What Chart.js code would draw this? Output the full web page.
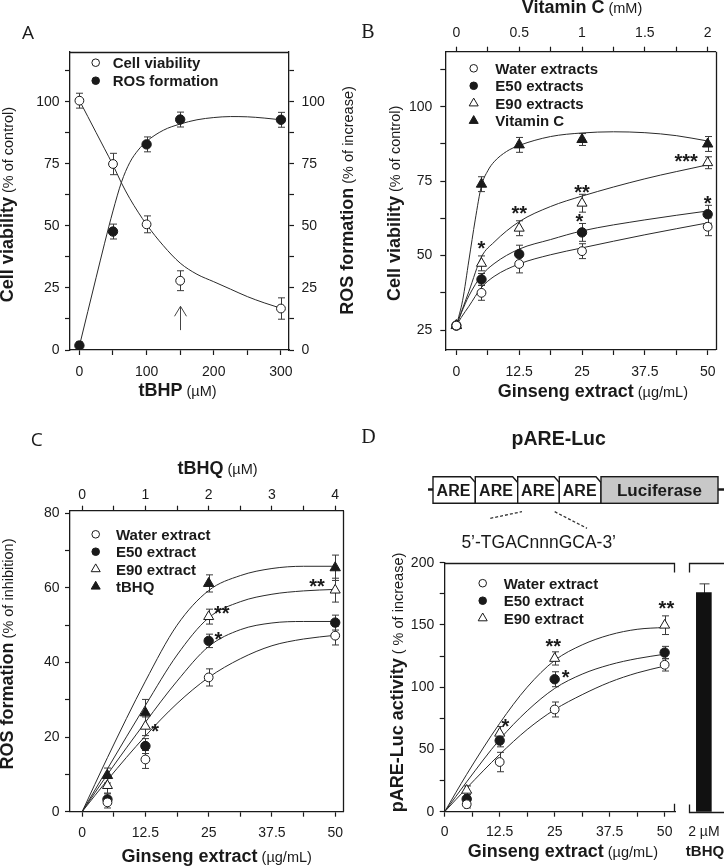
<!DOCTYPE html>
<html><head><meta charset="utf-8">
<script src="https://cdn.jsdelivr.net/npm/chart.js@4.4.1/dist/chart.umd.min.js"></script>
<style>
html,body{margin:0;padding:0;background:#fff;}
#wrap{position:relative;width:724px;height:867px;overflow:hidden;background:#fff;}
#wrap canvas,#wrap svg{position:absolute;}
</style></head><body>
<div id="wrap">
<canvas id="cA" width="362" height="420" style="left:0;top:0"></canvas>
<canvas id="cB" width="362" height="420" style="left:362px;top:0"></canvas>
<canvas id="cC" width="362" height="447" style="left:0;top:420px"></canvas>
<canvas id="cD" width="320" height="447" style="left:362px;top:420px"></canvas>
<canvas id="cE" width="42" height="447" style="left:682px;top:420px"></canvas>
<svg width="724" height="867" style="left:0;top:0;pointer-events:none" xmlns="http://www.w3.org/2000/svg" font-family="Liberation Sans, Arial, sans-serif" fill="#1a1a1a">
  <text x="558.7" y="445" text-anchor="middle" font-weight="bold" font-size="19.5">pARE-Luc</text>
  <line x1="428" y1="489.5" x2="433" y2="489.5" stroke="#1a1a1a" stroke-width="2.5"/>
  <line x1="718" y1="489.5" x2="724" y2="489.5" stroke="#1a1a1a" stroke-width="2.5"/>
  <g stroke="#1a1a1a" stroke-width="1.4" fill="#fff">
    <path d="M433,476.7 L470.3,476.7 L475.3,482.5 L475.3,503.3 L433,503.3 Z"/>
    <path d="M475.3,476.7 L512.7,476.7 L517.7,482.5 L517.7,503.3 L475.3,503.3 Z"/>
    <path d="M517.7,476.7 L554.3,476.7 L559.3,482.5 L559.3,503.3 L517.7,503.3 Z"/>
    <path d="M559.3,476.7 L596,476.7 L601,482.5 L601,503.3 L559.3,503.3 Z"/>
    <rect x="601" y="476.7" width="117" height="26.6" fill="#c8c8c8"/>
  </g>
  <g font-weight="bold" font-size="16" text-anchor="middle">
    <text x="453.5" y="495.8">ARE</text>
    <text x="496" y="495.8">ARE</text>
    <text x="538" y="495.8">ARE</text>
    <text x="579.7" y="495.8">ARE</text>
    <text x="659.5" y="496" font-size="17">Luciferase</text>
  </g>
  <g stroke="#333" stroke-width="1.3" stroke-dasharray="3,2">
    <line x1="490.3" y1="518.3" x2="522" y2="511.7"/>
    <line x1="554.7" y1="511.7" x2="587" y2="528.3"/>
  </g>
  <text x="538.7" y="548.3" text-anchor="middle" font-size="17.5">5’-TGACnnnGCA-3’</text>
</svg>
</div>
<script>
const FONT = '"Liberation Sans", Arial, Helvetica, sans-serif';
const INK = '#1a1a1a';
Chart.defaults.font.family = FONT;
Chart.defaults.color = INK;

// ================= DATA =================
// Panel A : tBHP dose response
const A_dose = [0, 50, 100, 150, 300];
const A_viability = [100.4, 74.9, 50.6, 27.9, 16.7];
const A_viabilityErr = [3, 4.3, 3.4, 4, 4.3];
const A_ros = [1.8, 47.7, 82.8, 92.8, 92.7];
const A_rosErr = [1.5, 3, 3, 3, 3];
const A_fitDose = [0, 12.5, 25, 37.5, 50, 62.5, 75, 87.5, 100, 125, 150, 175, 200, 225, 250, 275, 300];
const A_viabilityFit = [100.5, 94, 87.5, 81, 74.5, 67.3, 61, 55.5, 50.5, 42, 35, 30.5, 27.5, 24.5, 21.5, 19, 16.8];
const A_rosFit = [1.6, 15.5, 29.3, 43, 56, 67.5, 75.5, 80.5, 84, 88.5, 91, 92.7, 93.6, 94, 93.9, 93.4, 92.7];
const A_xTicks = [0, 50, 100, 150, 200, 250, 300];
const A_xTickLabels = [0, 100, 200, 300];
const A_yTicks = [0, 12.5, 25, 37.5, 50, 62.5, 75, 87.5, 100, 112.5];
const A_yTickLabels = [0, 25, 50, 75, 100];

// Panel B : cell viability, ginseng extracts vs vitamin C
const B_dose = [0, 5, 12.5, 25, 50];
const B_water = [26.5, 37.5, 47.2, 51.5, 59.7];
const B_waterErr = [1, 2.5, 3, 2.5, 3];
const B_e50 = [26.5, 42, 50.5, 57.8, 63.9];
const B_e50Err = [1, 2, 3, 3, 3];
const B_e90 = [26.5, 47.4, 59.2, 67.6, 81.2];
const B_e90Err = [1, 2.5, 2.5, 3, 2];
const B_vitcDose = [0, 0.2, 0.5, 1, 2];
const B_vitc = [26.5, 74, 87.2, 89, 87.5];
const B_vitcErr = [1, 2.5, 2.5, 2, 2.5];
const B_fitDose = [0, 1, 2.5, 5, 7.5, 12.5, 18.75, 25, 37.5, 50];
const B_waterFit = [26.5, 29.3, 33, 39.3, 43, 47.2, 50.3, 52.6, 57, 61];
const B_e50Fit = [26.5, 30.8, 36.5, 43.3, 47.3, 52.2, 55.4, 58.3, 62, 65];
const B_e90Fit = [26.5, 31.1, 38, 49.6, 54.5, 61.4, 66.5, 70, 75.8, 80.5];
const B_vitcFitDose = [0, 0.05, 0.1, 0.15, 0.2, 0.25, 0.3, 0.4, 0.5, 0.75, 1, 1.25, 1.5, 1.75, 2];
const B_vitcFit = [26.5, 35, 48.5, 62, 73.5, 78.5, 81.5, 85, 87, 90, 91.2, 91.6, 91.3, 90.3, 88.5];
const B_stars = [
  {x: 5, y: 54.2, t: '*'}, {x: 12.5, y: 65.8, t: '**'}, {x: 25, y: 72.9, t: '**'},
  {x: 24.5, y: 63.1, t: '*'}, {x: 45.7, y: 83.2, t: '***'}, {x: 50, y: 69.3, t: '*'}
];
const B_xTicks = [0, 6.25, 12.5, 18.75, 25, 31.25, 37.5, 43.75, 50];
const B_xTickLabels = [0, 12.5, 25, 37.5, 50];
const B_x2Ticks = [0, 0.25, 0.5, 0.75, 1, 1.25, 1.5, 1.75, 2];
const B_x2TickLabels = [0, 0.5, 1, 1.5, 2];
const B_yTicks = [25, 37.5, 50, 62.5, 75, 87.5, 100, 112.5];
const B_yTickLabels = [25, 50, 75, 100];

// Panel C : ROS formation (% of inhibition)
const C_dose = [5, 12.5, 25, 50];
const C_water = [2.5, 14, 36, 47.2];
const C_waterErr = [1.5, 2.4, 2.3, 2.5];
const C_e50 = [3.3, 17.6, 45.8, 50.7];
const C_e50Err = [1.5, 2, 1.8, 2];
const C_e90 = [7, 22.9, 52.3, 59.4];
const C_e90Err = [2, 2.5, 2, 3.2];
const C_tbhqDose = [0.4, 1, 2, 4];
const C_tbhq = [9.7, 26.5, 61.2, 65.4];
const C_tbhqErr = [2, 3.6, 2.3, 3.4];
const C_fitDose = [0, 5, 12.5, 18.75, 25, 31.25, 37.5, 43.75, 50];
const C_waterFit = [0, 8.5, 20.3, 29, 36, 41, 44.5, 46.3, 47.3];
const C_e50Fit = [0, 10, 24, 35, 44.3, 48.8, 50.6, 51, 51];
const C_e90Fit = [0, 11.5, 28.5, 42, 52, 56.3, 58.3, 59.2, 59.6];
const C_tbhqFitDose = [0, 0.4, 1, 1.5, 2, 2.5, 3, 3.5, 4];
const C_tbhqFit = [0, 14.5, 35, 50, 59.3, 63.3, 65.2, 65.8, 65.8];
const C_stars = [
  {x: 27.6, y: 54.5, t: '**'}, {x: 26.9, y: 47.4, t: '*'},
  {x: 14.4, y: 22.8, t: '*'}, {x: 46.4, y: 61.7, t: '**'}
];
const C_xTicks = B_xTicks;
const C_xTickLabels = B_xTickLabels;
const C_x2Ticks = [0, 0.5, 1, 1.5, 2, 2.5, 3, 3.5, 4];
const C_x2TickLabels = [0, 1, 2, 3, 4];
const C_yTicks = [0, 10, 20, 30, 40, 50, 60, 70, 80];
const C_yTickLabels = [0, 20, 40, 60, 80];

// Panel D : pARE-Luc activity
const D_dose = [5, 12.5, 25, 50];
const D_water = [6, 39.9, 82.1, 118];
const D_waterErr = [3, 7.8, 6, 5];
const D_e50 = [10.2, 57.1, 106.4, 127.8];
const D_e50Err = [3.5, 5, 6, 5];
const D_e90 = [17.2, 63, 123.1, 149.8];
const D_e90Err = [3.5, 5.4, 5.3, 7.5];
const D_fitDose = [0, 5, 12.5, 18.75, 25, 31.25, 37.5, 43.75, 50];
const D_waterFit = [0, 19, 46, 66, 82, 94, 104, 111.5, 117];
const D_e50Fit = [0, 24, 58, 81, 99, 110.5, 118, 123, 126.5];
const D_e90Fit = [0, 30, 71, 100, 121.5, 134, 142, 146.5, 148];
const D_stars = [
  {x: 13.8, y: 72.7, t: '*'}, {x: 24.7, y: 136.5, t: '**'},
  {x: 27.5, y: 111.8, t: '*'}, {x: 50.4, y: 167, t: '**'}
];
const D_xTicks = B_xTicks;
const D_xTickLabels = B_xTickLabels;
const D_yTicks = [0, 25, 50, 75, 100, 125, 150, 175, 200];
const D_yTickLabels = [0, 50, 100, 150, 200];
const D_barCategories = ['2 µM'];
const D_barValues = [176];
const D_barErr = [7];

// ================= HELPERS =================
function tickScale(o) {
  const horiz = (o.pos === 'top' || o.pos === 'bottom');
  return {
    type: 'linear', position: o.pos, min: o.min, max: o.max,
    afterBuildTicks: s => { s.ticks = o.ticks.map(v => ({value: v})); },
    afterFit: s => { if (horiz) s.height = o.size; else s.width = o.size; },
    ticks: {
      autoSkip: false, maxRotation: 0, minRotation: 0, padding: o.pad,
      font: {size: 14}, color: INK,
      callback: v => (o.labels.indexOf(v) >= 0 ? String(v) : '')
    },
    grid: {display: true, drawOnChartArea: false, drawTicks: true, tickLength: 5, tickColor: INK, tickWidth: 1.2},
    border: {display: true, color: INK, width: 1.3}
  };
}
function markerDS(label, xs, ys, errs, shape, filled, xAxisID, yAxisID) {
  return {
    label, data: xs.map((x, i) => ({x, y: ys[i]})), errors: errs, showLine: false,
    pointStyle: shape, pointRadius: shape === 'circle' ? (filled ? 4.7 : 4.4) : (filled ? 6 : 5.8),
    pointBackgroundColor: filled ? INK : '#fff', pointBorderColor: INK, pointBorderWidth: 1,
    xAxisID: xAxisID || 'x', yAxisID: yAxisID || 'y', order: 0, isMarker: true, filled
  };
}
function curveDS(xs, ys, xAxisID, yAxisID) {
  return {
    label: '', data: xs.map((x, i) => ({x, y: ys[i]})), showLine: true, pointRadius: 0,
    borderColor: '#2a2a2a', borderWidth: 1, cubicInterpolationMode: 'monotone', fill: false,
    xAxisID: xAxisID || 'x', yAxisID: yAxisID || 'y', order: 5
  };
}
function drawErrorBars(chart) {
  const ctx = chart.ctx;
  chart.data.datasets.forEach(ds => {
    if (!ds.errors) return;
    const xs = chart.scales[ds.xAxisID || 'x'], ys = chart.scales[ds.yAxisID || 'y'];
    const cap = ds.capHalf || 3.5;
    ctx.save(); ctx.strokeStyle = '#3a3a3a'; ctx.lineWidth = 1;
    ds.data.forEach((p, j) => {
      const e = ds.errors[j]; if (!e) return;
      const isObj = typeof p === 'object';
      const xv = isObj ? p.x : j, yv = isObj ? p.y : p;
      const x = Math.round(xs.getPixelForValue(xv)) + 0.5;
      const y1 = ys.getPixelForValue(yv + e), y2 = ys.getPixelForValue(yv - e);
      ctx.beginPath();
      ctx.moveTo(x, y1); ctx.lineTo(x, y2);
      ctx.moveTo(x - cap, y1); ctx.lineTo(x + cap, y1);
      ctx.moveTo(x - cap, y2); ctx.lineTo(x + cap, y2);
      ctx.stroke();
    });
    ctx.restore();
  });
}
function drawMarker(ctx, shape, filled, x, y, r) {
  ctx.beginPath();
  if (shape === 'circle') ctx.arc(x, y, r, 0, Math.PI * 2);
  else { ctx.moveTo(x, y - r); ctx.lineTo(x + r * 0.866, y + r * 0.5); ctx.lineTo(x - r * 0.866, y + r * 0.5); ctx.closePath(); }
  ctx.fillStyle = filled ? INK : '#fff'; ctx.fill();
  ctx.strokeStyle = INK; ctx.lineWidth = 1; ctx.stroke();
}
function drawMixed(ctx, parts, cx, cy, rot) {
  ctx.save(); ctx.translate(cx, cy); if (rot) ctx.rotate(rot);
  let total = 0;
  const ws = parts.map(p => { ctx.font = p[1] + ' ' + p[2] + 'px ' + FONT; const w = ctx.measureText(p[0]).width; total += w; return w; });
  const big = Math.max.apply(null, parts.map(p => p[2]));
  let x = -total / 2;
  ctx.textBaseline = 'alphabetic'; ctx.textAlign = 'left'; ctx.fillStyle = INK;
  parts.forEach((p, i) => { ctx.font = p[1] + ' ' + p[2] + 'px ' + FONT; ctx.fillText(p[0], x, big * 0.36); x += ws[i]; });
  ctx.restore();
}
function makeDecor(cfg) {
  return {
    id: 'decor' + cfg.id,
    beforeDatasetsDraw(chart) { drawErrorBars(chart); },
    afterDraw(chart) {
      const ctx = chart.ctx, a = chart.chartArea;
      ctx.save();
      ctx.strokeStyle = INK; ctx.lineWidth = 1.3;
      if (cfg.frame) cfg.frame(ctx, a, chart);
      if (cfg.legend) {
        const L = cfg.legend;
        chart.data.datasets.filter(d => d.isMarker).forEach((d, i) => {
          const y = L.y + i * L.dy;
          drawMarker(ctx, d.pointStyle, d.filled, L.x, y, d.pointStyle === 'circle' ? 3.8 : 5.2);
          ctx.font = 'bold 15px ' + FONT; ctx.fillStyle = INK; ctx.textAlign = 'left'; ctx.textBaseline = 'alphabetic';
          ctx.fillText(d.label, L.tx, y + 5.4);
        });
      }
      (cfg.stars || []).forEach(s => {
        const px = chart.scales[s.ax || 'x'].getPixelForValue(s.x);
        const py = chart.scales.y.getPixelForValue(s.y);
        ctx.font = 'bold 20px ' + FONT; ctx.textAlign = 'center'; ctx.textBaseline = 'alphabetic'; ctx.fillStyle = INK;
        ctx.fillText(s.t, px, py + 11.4);
      });
      if (cfg.arrow) {
        const r = cfg.arrow;
        const px = Math.round(chart.scales.x.getPixelForValue(r.x)) + 0.5;
        const y0 = chart.scales.y.getPixelForValue(r.y0), y1 = chart.scales.y.getPixelForValue(r.y1);
        ctx.strokeStyle = '#444'; ctx.lineWidth = 1;
        ctx.beginPath(); ctx.moveTo(px, y0); ctx.lineTo(px, y1);
        ctx.moveTo(px - 6, y1 + 10); ctx.lineTo(px, y1); ctx.lineTo(px + 6, y1 + 10); ctx.stroke();
      }
      (cfg.titles || []).forEach(t => drawMixed(ctx, t.parts, t.x, t.y, t.rot));
      if (cfg.letter) {
        const l = cfg.letter;
        ctx.font = l.font; ctx.fillStyle = INK; ctx.textAlign = 'center'; ctx.textBaseline = 'alphabetic';
        ctx.fillText(l.t, l.x, l.y);
      }
      ctx.restore();
    }
  };
}
const ROT = -Math.PI / 2;
const baseOpts = (padding, scales) => ({
  responsive: false, animation: false, devicePixelRatio: 1,
  layout: {padding},
  plugins: {legend: {display: false}, tooltip: {enabled: false}},
  scales
});

// ================= PANEL A =================
new Chart(document.getElementById('cA'), {
  type: 'line',
  data: {datasets: [
    markerDS('Cell viability', A_dose, A_viability, A_viabilityErr, 'circle', false),
    markerDS('ROS formation', A_dose, A_ros, A_rosErr, 'circle', true, 'x', 'y2'),
    curveDS(A_fitDose, A_viabilityFit),
    curveDS(A_fitDose, A_rosFit, 'x', 'y2')
  ]},
  options: baseOpts({top: 52, left: 0, right: 0, bottom: 0}, {
    x: tickScale({pos: 'bottom', min: -14, max: 312, ticks: A_xTicks, labels: A_xTickLabels, size: 70, pad: 8.3}),
    y: tickScale({pos: 'left', min: 0, max: 120, ticks: A_yTicks, labels: A_yTickLabels, size: 70, pad: 5.5}),
    y2: tickScale({pos: 'right', min: 0, max: 120, ticks: A_yTicks, labels: A_yTickLabels, size: 73, pad: 7.5})
  }),
  plugins: [makeDecor({
    id: 'A',
    frame: (ctx, a) => { ctx.beginPath(); ctx.moveTo(a.left, Math.round(a.top) + 0.5); ctx.lineTo(a.right, Math.round(a.top) + 0.5); ctx.stroke(); },
    legend: {x: 95.7, tx: 112.7, y: 62.7, dy: 18},
    arrow: {x: 150, y0: 8, y1: 17.6},
    titles: [
      {parts: [['Cell viability', 'bold', 18], [' (% of control)', 'normal', 14.5]], x: 7, y: 204.5, rot: ROT},
      {parts: [['ROS formation', 'bold', 18], [' (% of increase)', 'normal', 14.5]], x: 346.3, y: 200.5, rot: ROT},
      {parts: [['tBHP', 'bold', 18], [' (µM)', 'normal', 14.5]], x: 177.5, y: 390}
    ],
    letter: {t: 'A', x: 28, y: 38.5, font: '19px "Open Sans", sans-serif'}
  })]
});

// ================= PANEL B =================
new Chart(document.getElementById('cB'), {
  type: 'line',
  data: {datasets: [
    markerDS('Water extracts', B_dose, B_water, B_waterErr, 'circle', false),
    markerDS('E50 extracts', B_dose, B_e50, B_e50Err, 'circle', true),
    markerDS('E90 extracts', B_dose, B_e90, B_e90Err, 'triangle', false),
    markerDS('Vitamin C', B_vitcDose, B_vitc, B_vitcErr, 'triangle', true, 'x2', 'y'),
    curveDS(B_fitDose, B_waterFit),
    curveDS(B_fitDose, B_e50Fit),
    curveDS(B_fitDose, B_e90Fit),
    curveDS(B_vitcFitDose, B_vitcFit, 'x2', 'y')
  ]},
  options: baseOpts({top: 0, left: 0, right: 5.3, bottom: 0}, {
    x: tickScale({pos: 'bottom', min: -2.2, max: 51.6, ticks: B_xTicks, labels: B_xTickLabels, size: 70, pad: 8.3}),
    x2: tickScale({pos: 'top', min: -0.088, max: 2.064, ticks: B_x2Ticks, labels: B_x2TickLabels, size: 51.7, pad: 5.3}),
    y: tickScale({pos: 'left', min: 18.3, max: 118.5, ticks: B_yTicks, labels: B_yTickLabels, size: 83.3, pad: 8})
  }),
  plugins: [makeDecor({
    id: 'B',
    frame: (ctx, a) => { const x = Math.round(a.right) + 0.5; ctx.beginPath(); ctx.moveTo(x, a.top); ctx.lineTo(x, a.bottom); ctx.stroke(); },
    legend: {x: 111.7, tx: 133.3, y: 68.3, dy: 17.5},
    stars: B_stars,
    titles: [
      {parts: [['Cell viability', 'bold', 18], [' (% of control)', 'normal', 14.5]], x: 31.3, y: 203.4, rot: ROT},
      {parts: [['Ginseng extract', 'bold', 18], [' (µg/mL)', 'normal', 14.5]], x: 230.8, y: 390.8},
      {parts: [['Vitamin C', 'bold', 18], [' (mM)', 'normal', 14.5]], x: 220, y: 6.5}
    ],
    letter: {t: 'B', x: 6, y: 37.5, font: '20px "Liberation Serif", serif'}
  })]
});

// ================= PANEL C =================
new Chart(document.getElementById('cC'), {
  type: 'line',
  data: {datasets: [
    markerDS('Water extract', C_dose, C_water, C_waterErr, 'circle', false),
    markerDS('E50 extract', C_dose, C_e50, C_e50Err, 'circle', true),
    markerDS('E90 extract', C_dose, C_e90, C_e90Err, 'triangle', false),
    markerDS('tBHQ', C_tbhqDose, C_tbhq, C_tbhqErr, 'triangle', true, 'x2', 'y'),
    curveDS(C_fitDose, C_waterFit),
    curveDS(C_fitDose, C_e50Fit),
    curveDS(C_fitDose, C_e90Fit),
    curveDS(C_tbhqFitDose, C_tbhqFit, 'x2', 'y')
  ]},
  options: baseOpts({top: 0, left: 0, right: 18.7, bottom: 0}, {
    x: tickScale({pos: 'bottom', min: -2.4, max: 51.6, ticks: C_xTicks, labels: C_xTickLabels, size: 55.3, pad: 8.2}),
    x2: tickScale({pos: 'top', min: -0.192, max: 4.128, ticks: C_x2Ticks, labels: C_x2TickLabels, size: 90.7, pad: 2.5}),
    y: tickScale({pos: 'left', min: 0, max: 80.7, ticks: C_yTicks, labels: C_yTickLabels, size: 70, pad: 5.5})
  }),
  plugins: [makeDecor({
    id: 'C',
    frame: (ctx, a) => { const x = Math.round(a.right) + 0.5; ctx.beginPath(); ctx.moveTo(x, a.top); ctx.lineTo(x, a.bottom); ctx.stroke(); },
    legend: {x: 95.7, tx: 116, y: 114.3, dy: 17.4},
    stars: C_stars,
    titles: [
      {parts: [['ROS formation', 'bold', 18], [' (% of inhibition)', 'normal', 14.5]], x: 7, y: 234, rot: ROT},
      {parts: [['Ginseng extract', 'bold', 18], [' (µg/mL)', 'normal', 14.5]], x: 216.7, y: 435.8},
      {parts: [['tBHQ', 'bold', 18], [' (µM)', 'normal', 14.5]], x: 217.5, y: 47.5}
    ],
    letter: {t: 'C', x: 36.7, y: 25.5, font: '19px "Open Sans", sans-serif'}
  })]
});

// ================= PANEL D (lines) =================
new Chart(document.getElementById('cD'), {
  type: 'line',
  data: {datasets: [
    markerDS('Water extract', D_dose, D_water, D_waterErr, 'circle', false),
    markerDS('E50 extract', D_dose, D_e50, D_e50Err, 'circle', true),
    markerDS('E90 extract', D_dose, D_e90, D_e90Err, 'triangle', false),
    curveDS(D_fitDose, D_waterFit),
    curveDS(D_fitDose, D_e50Fit),
    curveDS(D_fitDose, D_e90Fit)
  ]},
  options: baseOpts({top: 142.7, left: 0, right: 1.7, bottom: 0}, {
    x: tickScale({pos: 'bottom', min: 0, max: 52.4, ticks: D_xTicks, labels: D_xTickLabels, size: 55.3, pad: 7.4}),
    y: tickScale({pos: 'left', min: 0, max: 200, ticks: D_yTicks, labels: D_yTickLabels, size: 82.7, pad: 5.5})
  }),
  plugins: [makeDecor({
    id: 'D',
    frame: (ctx, a) => {
      const t = Math.round(a.top) + 0.5, r = Math.round(a.right) - 0.5;
      ctx.beginPath();
      ctx.moveTo(a.left, t); ctx.lineTo(r, t); ctx.lineTo(r, t + 9);
      ctx.moveTo(r, a.bottom); ctx.lineTo(r, a.bottom - 8);
      ctx.stroke();
    },
    legend: {x: 120.7, tx: 141.7, y: 163.2, dy: 17.5},
    stars: D_stars,
    titles: [
      {parts: [['pARE-Luc activity', 'bold', 18], [' ( % of increase)', 'normal', 14.5]], x: 34.7, y: 262.5, rot: ROT},
      {parts: [['Ginseng extract', 'bold', 18], [' (µg/mL)', 'normal', 14.5]], x: 200.8, y: 430.5}
    ],
    letter: {t: 'D', x: 6.5, y: 22.5, font: '20px "Liberation Serif", serif'}
  })]
});

// ================= PANEL D (tBHQ bar) =================
new Chart(document.getElementById('cE'), {
  type: 'bar',
  data: {labels: D_barCategories, datasets: [{
    label: 'tBHQ', data: D_barValues, errors: D_barErr, capHalf: 5,
    backgroundColor: '#111111', borderColor: '#111111', borderWidth: 0,
    barThickness: 15
  }]},
  options: {
    responsive: false, animation: false, devicePixelRatio: 1,
    layout: {padding: {top: 142.7, left: 6.7, right: 5, bottom: 0}},
    plugins: {legend: {display: false}, tooltip: {enabled: false}},
    scales: {
      x: {type: 'category', position: 'bottom', offset: true,
          afterFit: s => { s.height = 55.3; s.paddingLeft = 0; s.paddingRight = 0; },
          grid: {display: false, drawTicks: false, tickLength: 0}, border: {display: false},
          ticks: {font: {size: 14}, color: INK, padding: 12, maxRotation: 0, autoSkip: false}},
      y: {type: 'linear', position: 'left', min: 0, max: 200, display: false}
    }
  },
  plugins: [makeDecor({
    id: 'E',
    frame: (ctx, a, chart) => {
      const l = Math.round(a.left) + 0.5, t = Math.round(a.top) + 0.5, b = Math.round(a.bottom) + 0.5, w = chart.width;
      ctx.beginPath();
      ctx.moveTo(w, t); ctx.lineTo(l, t); ctx.lineTo(l, t + 9);
      ctx.moveTo(w, b); ctx.lineTo(l, b); ctx.lineTo(l, b - 8);
      ctx.stroke();
    },
    titles: [{parts: [['tBHQ', 'bold', 15]], x: 23, y: 430.5}]
  })]
});
</script>
</body></html>
